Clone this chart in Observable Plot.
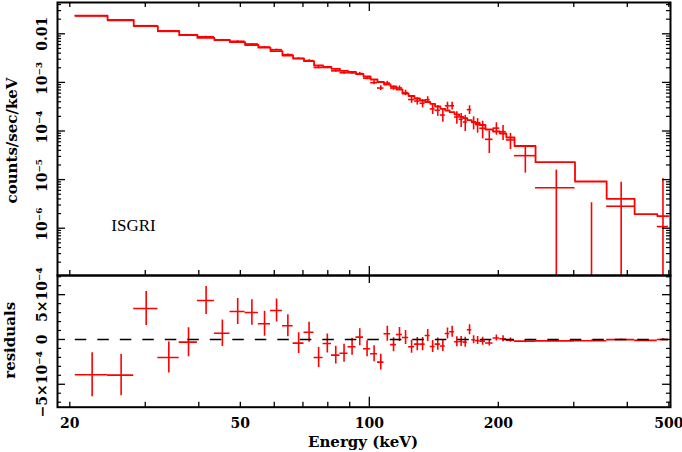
<!DOCTYPE html>
<html><head><meta charset="utf-8">
<script src="https://cdn.jsdelivr.net/npm/d3@7"></script>
<script src="https://cdn.jsdelivr.net/npm/@observablehq/plot@0.6"></script>
<style>
html,body{margin:0;padding:0;background:#fff;}
#chart{position:relative;width:682px;height:452px;overflow:hidden;background:#fff;}
#chart svg{position:absolute;left:0;overflow:visible;}
</style></head><body><div id="chart"></div>
<script>
// Energy bin edges (keV)
const binEdges = [20.6, 24.5, 28.2, 32.1, 36.0, 39.7, 43.5, 47.3, 51.3, 55.1, 58.8, 62.7, 66.4, 70.4, 74.3, 78.0, 81.6, 85.4, 89.2, 93.1, 96.9, 100.7, 104.5, 108.2, 112.1, 115.7, 119.5, 123.5, 127.5, 131.3, 135.0, 138.7, 142.4, 146.5, 150.4, 154.0, 158.1, 162.0, 165.6, 169.3, 173.4, 176.9, 181.0, 186.7, 194.4, 201.5, 208.8, 218.2, 244.3, 302, 358, 416, 470, 499];
// Folded model (counts/sec/keV) per bin
const modelRate = [0.02358, 0.01923, 0.01433, 0.01142, 0.00945, 0.00827, 0.00746, 0.00672, 0.00588, 0.00518, 0.00439, 0.00358, 0.00313, 0.00273, 0.002227, 0.002074, 0.001905, 0.001733, 0.001652, 0.001489, 0.001322, 0.001147, 0.001019, 0.000905, 0.000823, 0.000714, 0.000591, 0.000525, 0.000466, 0.000424, 0.000395, 0.000363, 0.000319, 0.000286, 0.000264, 0.000244, 0.000219, 0.000196, 0.0001834, 0.0001668, 0.0001532, 0.0001461, 0.0001329, 0.0001074, 9.77e-5, 8.88e-5, 7.35e-5, 4.91e-5, 2.28e-5, 9.14e-6, 4.03e-6, 1.94e-6, 1.78e-6];
// Residuals (data - model), in units of 1e-4 counts/sec/keV
const residual = [-3.94, -3.98, 3.46, -2.01, -0.30, 4.35, 0.70, 3.13, 3.01, 1.75, 3.24, 1.53, -0.41, 0.81, -2.01, -0.45, -1.75, -1.53, -0.81, 0.26, -1.04, -1.60, -2.53, 0.64, -0.58, 0.56, 0.22, -0.81, -0.52, -0.52, 0.45, -0.78, -0.52, -0.73, 0.67, 0.86, -0.25, -0.22, -0.30, 1.08, -0.03, -0.11, -0.19, -0.40, 0.17, 0.08, -0.08, -0.18, -0.16, -0.14, -0.012, -0.10, -0.007];
// 1-sigma errors, in units of 1e-4 counts/sec/keV
const residualErr = [2.46, 2.31, 1.90, 1.73, 1.62, 1.56, 1.48, 1.45, 1.42, 1.40, 1.28, 1.23, 1.17, 1.12, 1.12, 1.06, 1.00, 1.00, 0.95, 0.95, 0.89, 0.89, 0.89, 0.84, 0.78, 0.78, 0.78, 0.73, 0.73, 0.73, 0.67, 0.67, 0.67, 0.61, 0.61, 0.61, 0.56, 0.56, 0.56, 0.56, 0.45, 0.45, 0.45, 0.33, 0.33, 0.33, 0.24, 0.175, 0.089, 0.082, 0.06, 0.07, 0.093];
const RES_UNIT = 1e-4;

// Axis tick values and labels
const xMinorTicks = [20, 30, 40, 50, 60, 70, 80, 90, 200, 300, 400, 500];
const xMajorTicks = [100];
const xTickLabels = [20, 50, 100, 200, 500];
const yTopMajor = [1e-6, 1e-5, 1e-4, 1e-3, 1e-2];
const yTopPowerLabels = ["10⁻⁶", "10⁻⁵", "10⁻⁴", "10⁻³"];
const yTopPlainLabel = "0.01";
const yResMajor = [-5e-4, 0, 5e-4];
const yResLabels = ["−5×10⁻⁴", "0", "5×10⁻⁴"];
const yResMinorSteps = [-7, -6, -4, -3, -2, -1, 1, 2, 3, 4, 6, 7];
const instrumentLabel = "ISGRI";

const RED = "#ff0000";
const FONT = "DejaVu Serif";
const W = 682;
const xDomain = [18.72, 504.5];
const mL = 57, mR = 12;
const frameW = W - mL - mR;

const bins = modelRate.map((m, i) => {
  const lo = binEdges[i], hi = binEdges[i + 1];
  const r = residual[i] * RES_UNIT, e = residualErr[i] * RES_UNIT;
  return {lo, hi, mid: (lo + hi) / 2, model: m, rate: m + r, r, e};
});
const modelSteps = bins.flatMap(b => [{x: b.lo, y: b.model}, {x: b.hi, y: b.model}]);

const yTopMinor = [];
for (let p = -7; p <= -2; p++) for (let k = 2; k <= 9; k++) {
  const v = k * Math.pow(10, p);
  if (v < 0.044) yTopMinor.push(v);
}
const yResMinor = yResMinorSteps.map(k => k * RES_UNIT);

const labelStyle = {fontFamily: FONT, fontWeight: "bold", fill: "black", textAnchor: "middle", lineAnchor: "middle"};

// ---------- top panel ----------
const topH = 278, topMT = 2, topMB = 3;
const topFH = topH - topMT - topMB;
const topPlot = Plot.plot({
  width: W, height: topH,
  marginLeft: mL, marginRight: mR, marginTop: topMT, marginBottom: topMB,
  style: {background: "transparent", overflow: "visible"},
  x: {type: "log", domain: xDomain, axis: null},
  y: {type: "log", domain: [1.064e-7, 0.04406], axis: null},
  marks: [
    Plot.line(modelSteps, {x: "x", y: "y", stroke: RED, strokeWidth: 1.8, clip: true}),
    Plot.ruleY(bins.filter(b => b.rate > 0), {y: "rate", x1: "lo", x2: "hi", stroke: RED, strokeWidth: 1.6, clip: true}),
    Plot.ruleX(bins.filter(b => b.rate + b.e > 0), {x: "mid", y1: b => Math.max(b.rate - b.e, 1e-9), y2: b => b.rate + b.e, stroke: RED, strokeWidth: 1.6, clip: true}),
    Plot.tickX(xMinorTicks, {x: d => d, insetBottom: topFH - 5, stroke: "black", strokeWidth: 1.3}),
    Plot.tickX(xMajorTicks, {x: d => d, insetBottom: topFH - 9, stroke: "black", strokeWidth: 1.3}),
    Plot.tickX(xMinorTicks, {x: d => d, insetTop: topFH - 5, stroke: "black", strokeWidth: 1.3}),
    Plot.tickX(xMajorTicks, {x: d => d, insetTop: topFH - 9, stroke: "black", strokeWidth: 1.3}),
    Plot.tickY(yTopMinor, {y: d => d, insetRight: frameW - 4, stroke: "black", strokeWidth: 1.2}),
    Plot.tickY(yTopMajor, {y: d => d, insetRight: frameW - 8, stroke: "black", strokeWidth: 1.3}),
    Plot.tickY(yTopMinor, {y: d => d, insetLeft: frameW - 4, stroke: "black", strokeWidth: 1.2}),
    Plot.tickY(yTopMajor, {y: d => d, insetLeft: frameW - 8, stroke: "black", strokeWidth: 1.3}),
    Plot.frame({stroke: "black", strokeWidth: 2}),
    Plot.text(yTopMajor.slice(0, 4), {y: d => d, text: (d, i) => yTopPowerLabels[i], frameAnchor: "left", dx: -15, dy: -4,
      rotate: -90, fontSize: 14, ...labelStyle}),
    Plot.text([yTopMajor[4]], {y: d => d, text: () => yTopPlainLabel, frameAnchor: "left", dx: -15,
      rotate: -90, fontSize: 14, ...labelStyle}),
    Plot.text([instrumentLabel], {x: [25], y: [1.12e-6], text: d => d, textAnchor: "start", lineAnchor: "middle",
      fontFamily: "Liberation Serif", fontSize: 17, fill: "black"}),
    Plot.text(["counts/sec/keV"], {frameAnchor: "left", dx: -45.5, dy: 1.5, rotate: -90, text: d => d,
      fontSize: 15, ...labelStyle})
  ]
});
topPlot.style.top = "0px";

// ---------- residual panel ----------
const botTop = 255;
const botH = 452 - botTop, botMT = 20, botMB = 45.3;
const botFH = botH - botMT - botMB;
const bottomPlot = Plot.plot({
  width: W, height: botH,
  marginLeft: mL, marginRight: mR, marginTop: botMT, marginBottom: botMB,
  style: {background: "transparent", overflow: "visible"},
  x: {type: "log", domain: xDomain, axis: null},
  y: {domain: [-7.56e-4, 7.14e-4], axis: null},
  marks: [
    Plot.ruleY(bins, {y: "r", x1: "lo", x2: "hi", stroke: RED, strokeWidth: 1.6, clip: true}),
    Plot.ruleX(bins, {x: "mid", y1: b => b.r - b.e, y2: b => b.r + b.e, stroke: RED, strokeWidth: 1.6, clip: true}),
    Plot.ruleY([0], {x1: binEdges[0], x2: binEdges[binEdges.length - 1], stroke: "black", strokeWidth: 1.6, strokeDasharray: "11.5,11"}),
    Plot.tickX(xMinorTicks, {x: d => d, insetTop: botFH - 5, stroke: "black", strokeWidth: 1.3}),
    Plot.tickX(xMajorTicks, {x: d => d, insetTop: botFH - 10, stroke: "black", strokeWidth: 1.3}),
    Plot.tickX(xMajorTicks, {x: d => d, insetBottom: botFH - 8, stroke: "black", strokeWidth: 1.3}),
    Plot.tickY(yResMinor, {y: d => d, insetRight: frameW - 4, stroke: "black", strokeWidth: 1.2}),
    Plot.tickY(yResMajor, {y: d => d, insetRight: frameW - 8, stroke: "black", strokeWidth: 1.3}),
    Plot.tickY(yResMinor, {y: d => d, insetLeft: frameW - 4, stroke: "black", strokeWidth: 1.2}),
    Plot.tickY(yResMajor, {y: d => d, insetLeft: frameW - 8, stroke: "black", strokeWidth: 1.3}),
    Plot.frame({stroke: "black", strokeWidth: 2}),
    Plot.text(yResMajor, {y: d => d, text: (d, i) => yResLabels[i], frameAnchor: "left", dx: -15, rotate: -90,
      fontSize: 14, ...labelStyle}),
    Plot.text(xTickLabels, {x: d => d, text: d => String(d), frameAnchor: "bottom", dy: 16.3,
      fontSize: 14, ...labelStyle}),
    Plot.text(["Energy (keV)"], {frameAnchor: "bottom", dy: 34.5, dx: -1, text: d => d,
      fontSize: 15, ...labelStyle}),
    Plot.text(["residuals"], {frameAnchor: "left", dx: -47, dy: -1, rotate: -90, text: d => d,
      fontSize: 15, ...labelStyle})
  ]
});
bottomPlot.style.top = botTop + "px";

const chart = document.getElementById("chart");
chart.appendChild(topPlot);
chart.appendChild(bottomPlot);
</script>
</body></html>
